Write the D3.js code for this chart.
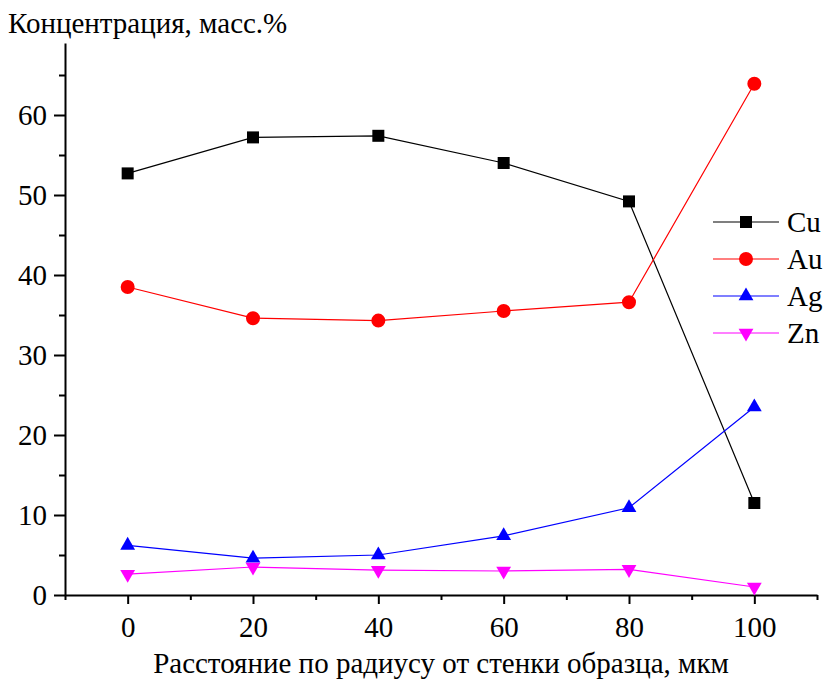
<!DOCTYPE html>
<html>
<head>
<meta charset="utf-8">
<script src="https://cdn.jsdelivr.net/npm/d3@7.9.0/dist/d3.min.js"></script>
<style>
  body { margin: 0; background: #fff; }
  svg text { font-family: "Liberation Serif", "Times New Roman", serif; fill: #000; }
</style>
</head>
<body>
<svg id="chart" width="824" height="680"></svg>
<script>
const distances = [0, 20, 40, 60, 80, 100];
const cu = [52.7, 57.2, 57.4, 54.0, 49.2, 11.5];
const au = [38.5, 34.6, 34.3, 35.5, 36.6, 63.9];
const ag = [6.2, 4.6, 5.0, 7.4, 10.9, 23.5];
const zn = [2.6, 3.5, 3.1, 3.0, 3.2, 1.0];
const seriesNames = ['Cu', 'Au', 'Ag', 'Zn'];
const xMajor = [0, 20, 40, 60, 80, 100];
const xMinor = [-10, 10, 30, 50, 70, 90, 110];
const yMajor = [0, 10, 20, 30, 40, 50, 60];
const yMinor = [5, 15, 25, 35, 45, 55, 65];

const series = [
  { name: 'Cu', values: cu, color: '#000000', symbol: d3.symbolSquare, size: 144, rotate: 0 },
  { name: 'Au', values: au, color: '#ff0000', symbol: d3.symbolCircle, size: 154, rotate: 0 },
  { name: 'Ag', values: ag, color: '#0000ff', symbol: d3.symbolTriangle, size: 95, rotate: 0 },
  { name: 'Zn', values: zn, color: '#ff00ff', symbol: d3.symbolTriangle, size: 95, rotate: 180 },
];

const margin = { top: 43, left: 65 };
const width = 752, height = 552;
const font = '"Liberation Serif", "Times New Roman", serif';

const svg = d3.select('#chart');
const g = svg.append('g').attr('transform', `translate(${margin.left},${margin.top})`);

const x = d3.scaleLinear().domain([-10, 110]).range([0, width]);
const y = d3.scaleLinear().domain([0, 69]).range([height, 0]);

// axes: major ticks with labels, minor ticks without
g.append('g')
  .call(d3.axisLeft(y).tickValues(yMajor).tickSize(11).tickSizeOuter(0).tickPadding(7).tickFormat(d3.format('d')));
g.append('g')
  .call(d3.axisLeft(y).tickValues(yMinor).tickSize(6).tickSizeOuter(0).tickFormat(''))
  .select('.domain').remove();

g.append('g').attr('transform', `translate(0,${height})`)
  .call(d3.axisBottom(x).tickValues(xMajor).tickSize(9).tickSizeOuter(0).tickPadding(12).tickFormat(d3.format('d')));
g.append('g').attr('transform', `translate(0,${height})`)
  .call(d3.axisBottom(x).tickValues(xMinor).tickSize(5).tickSizeOuter(0).tickFormat(''))
  .select('.domain').remove();

g.selectAll('.domain').attr('stroke', '#000').attr('stroke-width', 2);
g.selectAll('.tick line').attr('stroke', '#000').attr('stroke-width', 2);
g.selectAll('.tick text').attr('font-size', 29).attr('font-family', font);

// lines and markers
const line = d3.line().x((d, i) => x(distances[i])).y(d => y(d));

series.forEach(s => {
  g.append('path')
    .attr('d', line(s.values))
    .attr('fill', 'none')
    .attr('stroke', s.color)
    .attr('stroke-width', 1.2);
});
series.forEach(s => {
  const sym = d3.symbol().type(s.symbol).size(s.size);
  g.selectAll(null)
    .data(s.values)
    .join('path')
    .attr('d', sym)
    .attr('fill', s.color)
    .attr('transform', (d, i) => `translate(${x(distances[i])},${y(d)}) rotate(${s.rotate})`);
});

// legend
const legend = svg.append('g').attr('transform', 'translate(713,222)');
series.forEach((s, i) => {
  const row = legend.append('g').attr('transform', `translate(0,${i * 37})`);
  row.append('line').attr('x1', 0).attr('x2', 66).attr('y1', 0).attr('y2', 0)
    .attr('stroke', s.color).attr('stroke-width', 1.2);
  row.append('path')
    .attr('d', d3.symbol().type(s.symbol).size(s.size)())
    .attr('fill', s.color)
    .attr('transform', `translate(33,0) rotate(${s.rotate})`);
  row.append('text').attr('x', 74).attr('y', 10).attr('font-size', 29).attr('font-family', font).text(seriesNames[i]);
});

// titles
svg.append('text').attr('x', 8).attr('y', 33).attr('font-size', 29).attr('font-family', font)
  .text('Концентрация, масс.%');
svg.append('text').attr('x', margin.left + width / 2).attr('y', 673)
  .attr('text-anchor', 'middle').attr('font-size', 29).attr('font-family', font)
  .text('Расстояние по радиусу от стенки образца, мкм');
</script>
</body>
</html>
